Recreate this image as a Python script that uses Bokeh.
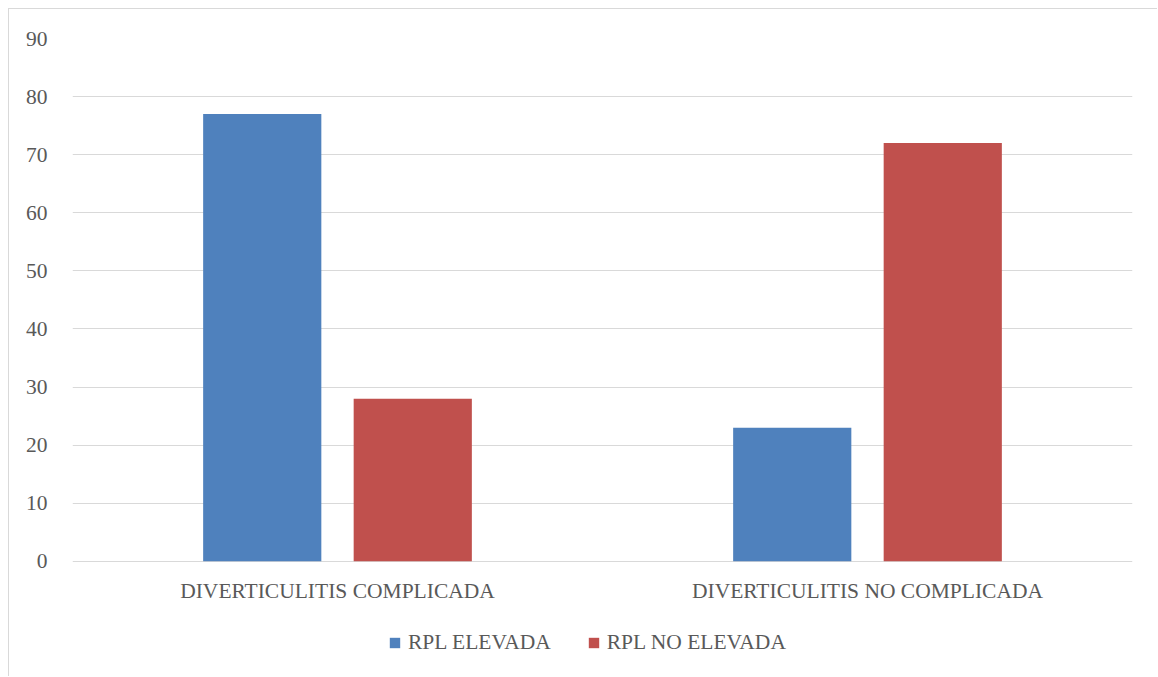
from bokeh.plotting import figure
from bokeh.models import ColumnDataSource, FactorRange, Range1d, Legend, LegendItem
from bokeh.core.properties import value
from bokeh.transform import dodge
from bokeh.embed import file_html
from bokeh.resources import INLINE

categories = ["DIVERTICULITIS COMPLICADA", "DIVERTICULITIS NO COMPLICADA"]
series_names = ["RPL ELEVADA", "RPL NO ELEVADA"]
rpl_elevada = [77, 23]
rpl_no_elevada = [28, 72]
y_ticks = [0, 10, 20, 30, 40, 50, 60, 70, 80, 90]

FONT = "Liberation Serif"
TXT = "#595959"
FS = "21.5px"

src = ColumnDataSource(dict(cat=categories, a=rpl_elevada, b=rpl_no_elevada,
                            base=[0] * len(categories)))

p = figure(width=1149, height=668, x_range=FactorRange(*categories, range_padding=0),
           y_range=Range1d(-20, 90), output_backend="svg", toolbar_location=None,
           min_border_left=63, min_border_right=26, min_border_top=29, min_border_bottom=0)
p.styles = {"margin-left": "8px", "margin-top": "8px",
            "border-left": "1px solid #d9d9d9", "border-top": "1px solid #d9d9d9"}
p.outline_line_color = None
p.xaxis.visible = False

r1 = p.vbar(x=dodge("cat", -0.142, range=p.x_range), top="a", width=0.223, source=src,
            fill_color="#4F81BD", line_color=None)
r2 = p.vbar(x=dodge("cat", 0.142, range=p.x_range), top="b", width=0.223, source=src,
            fill_color="#C0504D", line_color=None)

# category labels under the baseline
p.text(x="cat", y="base", text="cat", source=src, text_font=value(FONT),
       text_font_size=FS, text_color=TXT, text_align="center",
       text_baseline="alphabetic", y_offset=30)

p.yaxis.ticker = y_ticks
p.yaxis.axis_line_color = None
p.yaxis.major_tick_line_color = None
p.yaxis.minor_tick_line_color = None
p.yaxis.major_label_text_font = FONT
p.yaxis.major_label_text_font_size = FS
p.yaxis.major_label_text_color = TXT
p.yaxis.major_label_standoff = 19

p.xgrid.grid_line_color = None
p.ygrid.grid_line_color = "#d9d9d9"
p.ygrid.grid_line_width = 1

legend = Legend(items=[LegendItem(label=series_names[0], renderers=[r1]),
                       LegendItem(label=series_names[1], renderers=[r2])],
                orientation="horizontal", location=(316, 22))
legend.border_line_color = None
legend.background_fill_alpha = 0
legend.label_text_font = FONT
legend.label_text_font_size = FS
legend.label_text_color = TXT
legend.glyph_width = 13
legend.glyph_height = 13
legend.spacing = 36
legend.label_standoff = 7
legend.margin = 0
legend.padding = 0
p.add_layout(legend, "center")

open("out.html", "w").write(file_html(p, INLINE))
